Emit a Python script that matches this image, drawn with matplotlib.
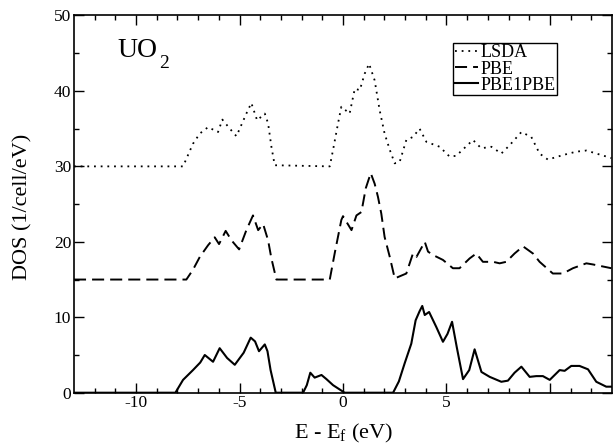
import matplotlib
matplotlib.use("Agg")
import matplotlib.pyplot as plt

plt.rcParams['font.family'] = ['Liberation Serif', 'DejaVu Serif']
plt.rcParams['mathtext.fontset'] = 'custom'
plt.rcParams['mathtext.rm'] = 'Liberation Serif'
plt.rcParams['mathtext.it'] = 'Liberation Serif:italic'
plt.rcParams['axes.unicode_minus'] = False

# PBE1PBE (solid, no offset)
pbe0_x = [-13, -8.1, -7.73, -7.25, -6.9, -6.68, -6.28, -5.96, -5.6, -5.23, -4.8, -4.46,
          -4.25, -4.06, -3.78, -3.65, -3.5, -3.25, -1.93, -1.75, -1.58, -1.37, -1.04, -0.8,
          -0.48, 0.08, 2.42, 2.7, 2.98, 3.3, 3.51, 3.7, 3.83, 3.95, 4.16, 4.51, 4.83, 5.05,
          5.27, 5.5, 5.8, 6.1, 6.36, 6.69, 7.09, 7.65, 7.97, 8.29, 8.62, 9.02, 9.34, 9.66,
          9.99, 10.47, 10.71, 11.03, 11.43, 11.84, 12.24, 12.72, 13.0]
pbe0_y = [0, 0, 1.7, 3.0, 4.0, 5.0, 4.1, 5.9, 4.6, 3.7, 5.3, 7.3,
          6.8, 5.5, 6.4, 5.5, 3.0, 0, 0, 1.0, 2.65, 2.0, 2.35, 1.8,
          1.0, 0, 0, 1.5, 3.9, 6.5, 9.6, 10.8, 11.5, 10.3, 10.7, 8.7, 6.75, 7.8,
          9.4, 6.0, 1.8, 3.0, 5.75, 2.75, 2.1, 1.45, 1.6, 2.65, 3.45, 2.1, 2.2, 2.2,
          1.7, 3.0, 2.9, 3.55, 3.55, 3.1, 1.45, 0.8, 0.8]

# PBE (dashed, shifted by +15)
pbe_x = [-13, -7.57, -7.25, -6.92, -6.52, -6.2, -5.99, -5.67, -5.39, -5.02, -4.67, -4.35,
         -4.1, -3.86, -3.62, -3.46, -3.22, -0.64, -0.4, -0.08, 0.0, 0.41, 0.65, 0.89, 1.1,
         1.34, 1.53, 1.69, 1.85, 2.01, 2.26, 2.5, 3.06, 3.38, 3.55, 3.95, 4.11, 4.35, 4.83,
         5.31, 5.63, 6.12, 6.44, 6.76, 7.25, 7.57, 7.89, 8.29, 8.70, 9.18, 9.5, 10.14,
         10.63, 11.11, 11.76, 12.08, 12.97]
pbe_y = [15, 15, 16.3, 18.0, 19.55, 20.6, 19.7, 21.45, 20.2, 19.0, 21.55, 23.5,
         21.55, 22.35, 20.2, 17.8, 15, 15, 18.5, 22.9, 23.4, 21.55, 23.5, 23.95, 27.1,
         29.1, 27.7, 25.95, 23.75, 20.65, 18.0, 15.15, 15.8, 18.45, 18.0, 20.0, 18.7, 18.25, 17.6,
         16.5, 16.5, 17.8, 18.45, 17.35, 17.35, 17.15, 17.35, 18.45, 19.4, 18.45, 17.35, 15.8,
         15.8, 16.5, 17.15, 17.0, 16.5]

# LSDA (dotted, shifted by +30)
lsda_x = [-13, -7.73, -7.25, -6.92, -6.52, -6.04, -5.83, -5.47, -5.15, -4.67, -4.43, -4.15,
          -3.78, -3.62, -3.46, -3.3, -0.64, -0.48, -0.24, -0.08, 0.32, 0.57, 0.81, 1.05,
          1.26, 1.53, 1.77, 2.01, 2.26, 2.5, 2.74, 3.06, 3.38, 3.7, 4.03, 4.67, 5.15, 5.47,
          6.28, 6.68, 7.17, 7.65, 8.05, 8.62, 9.1, 9.5, 9.9, 10.63, 11.27, 11.76, 12.97]
lsda_y = [30, 30, 33.0, 34.35, 35.2, 34.55, 36.2, 35.0, 34.0, 37.0, 38.4, 36.1,
          37.0, 35.7, 32.6, 30.15, 30, 32.2, 35.7, 37.9, 37.0, 40.3, 40.1, 42.3,
          43.6, 41.4, 37.45, 34.35, 32.2, 30.4, 30.6, 33.5, 33.9, 35.0, 33.25, 32.6, 31.3, 31.4,
          33.5, 32.4, 32.6, 31.7, 32.8, 34.55, 33.9, 31.7, 30.9, 31.5, 31.95, 32.1, 31.1]

labels = ['LSDA', 'PBE', 'PBE1PBE']
xticks = [-10, -5, 0, 5, 10]
xticklabels = ['-10', '-5', '0', '5', '']
yticks = [0, 10, 20, 30, 40, 50]

fig = plt.figure(figsize=(6.13, 4.45), dpi=100)
ax = fig.add_axes([0.1207, 0.1175, 0.8777, 0.8477])

ax.plot(lsda_x, lsda_y, color='black', lw=1.3, linestyle=(0, (1, 2.7)), label=labels[0])
ax.plot(pbe_x, pbe_y, color='black', lw=1.4, linestyle=(0, (6.2, 3.1)), label=labels[1])
ax.plot(pbe0_x, pbe0_y, color='black', lw=1.5, linestyle='-', label=labels[2])

ax.set_xlim(-13, 13)
ax.set_ylim(0, 50)
ax.set_xticks(xticks)
ax.set_xticklabels(xticklabels)
ax.set_xticks(range(-12, 13), minor=True)
ax.set_yticks(yticks)
ax.set_yticks(range(5, 50, 10), minor=True)

ax.tick_params(which='both', direction='in', top=True, right=True, labelsize=12.5,
               width=1.0, pad=2)
ax.tick_params(which='major', length=7)
ax.tick_params(which='minor', length=3.6)
for s in ax.spines.values():
    s.set_linewidth(1.2)

ax.set_xlabel(r'E - E$_\mathrm{f}$ (eV)', fontsize=16)
ax.set_ylabel('DOS (1/cell/eV)', fontsize=16)
ax.xaxis.set_label_coords(0.5, -0.077)
ax.yaxis.set_label_coords(-0.078, 0.492)

ax.text(0.080, 0.889, 'UO', transform=ax.transAxes, fontsize=20,
        ha='left', va='baseline')
ax.text(0.158, 0.861, '2', transform=ax.transAxes, fontsize=14,
        ha='left', va='baseline')

leg = ax.legend(loc='upper right', bbox_to_anchor=(0.898, 0.928), fontsize=13,
                frameon=True, fancybox=False, shadow=False, borderpad=0.1,
                labelspacing=-0.05, handlelength=1.3, handletextpad=0.1,
                borderaxespad=0.0)
leg.get_frame().set_edgecolor('black')
leg.get_frame().set_linewidth(1.0)
leg.get_frame().set_alpha(1)

fig.savefig('out.png', dpi=100)
